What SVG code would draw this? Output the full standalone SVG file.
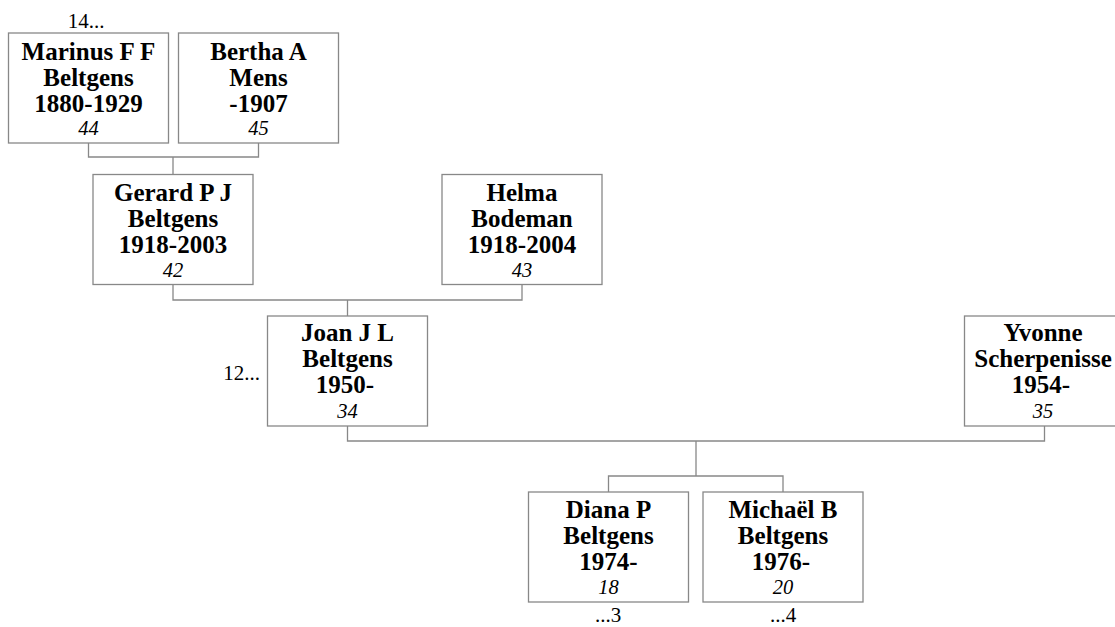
<svg xmlns="http://www.w3.org/2000/svg" width="1115" height="627" viewBox="0 0 1115 627">
<style>
.box{fill:#fff;stroke:#888;stroke-width:1.3}
.n{font-family:"Liberation Serif","Times New Roman",serif;font-weight:bold;font-size:25px;text-anchor:middle;fill:#000}
.i{font-family:"Liberation Serif","Times New Roman",serif;font-style:italic;font-size:20.5px;text-anchor:middle;fill:#000}
.r{font-family:"Liberation Serif","Times New Roman",serif;font-size:21px;fill:#000}
.c{fill:none;stroke:#888;stroke-width:1.3}
</style>
<rect width="1115" height="627" fill="#fff"/>
<g id="connectors">
<path class="c" d="M88.5,143 V157 H258.5 V143 M173,157 V174.5"/>
<path class="c" d="M173,284.5 V300 H522 V284.5 M347.5,300 V316"/>
<path class="c" d="M347.5,426 V441 H1044.5 V426 M696,441 V476 M608.5,492 V476 H783 V492"/>
</g>
<g id="marinus">
<rect class="box" x="8.5" y="33" width="160" height="110"/>
<text class="n" x="88.5" y="59.5">Marinus F F</text>
<text class="n" x="88.5" y="85.5">Beltgens</text>
<text class="n" x="88.5" y="111.5">1880-1929</text>
<text class="i" x="88.5" y="135">44</text>
<text class="r" x="86" y="28" text-anchor="middle">14...</text>
</g>
<g id="bertha">
<rect class="box" x="178.5" y="33" width="160" height="110"/>
<text class="n" x="258.5" y="59.5">Bertha A</text>
<text class="n" x="258.5" y="85.5">Mens</text>
<text class="n" x="258.5" y="111.5">-1907</text>
<text class="i" x="258.5" y="135">45</text>
</g>
<g id="gerard">
<rect class="box" x="93" y="174.5" width="160" height="110"/>
<text class="n" x="173" y="201">Gerard P J</text>
<text class="n" x="173" y="227">Beltgens</text>
<text class="n" x="173" y="253">1918-2003</text>
<text class="i" x="173" y="276.5">42</text>
</g>
<g id="helma">
<rect class="box" x="442" y="174.5" width="160" height="110"/>
<text class="n" x="522" y="201">Helma</text>
<text class="n" x="522" y="227">Bodeman</text>
<text class="n" x="522" y="253">1918-2004</text>
<text class="i" x="522" y="276.5">43</text>
</g>
<g id="joan">
<rect class="box" x="267.5" y="316" width="160" height="110"/>
<text class="n" x="347.5" y="341">Joan J L</text>
<text class="n" x="347.5" y="367">Beltgens</text>
<text class="n" x="345" y="393">1950-</text>
<text class="i" x="347.5" y="418">34</text>
<text class="r" x="260" y="380" text-anchor="end">12...</text>
</g>
<g id="yvonne">
<rect class="box" x="964.5" y="316" width="160" height="110"/>
<text class="n" x="1043" y="341">Yvonne</text>
<text class="n" x="1043" y="367">Scherpenisse</text>
<text class="n" x="1041" y="393">1954-</text>
<text class="i" x="1043" y="418">35</text>
</g>
<g id="diana">
<rect class="box" x="528.5" y="492" width="160" height="110"/>
<text class="n" x="608.5" y="518">Diana P</text>
<text class="n" x="608.5" y="544">Beltgens</text>
<text class="n" x="608.5" y="570">1974-</text>
<text class="i" x="608.5" y="594">18</text>
<text class="r" x="608" y="622" text-anchor="middle">...3</text>
</g>
<g id="michael">
<rect class="box" x="703" y="492" width="160" height="110"/>
<text class="n" x="783" y="518">Michaël B</text>
<text class="n" x="783" y="544">Beltgens</text>
<text class="n" x="781" y="570">1976-</text>
<text class="i" x="783" y="594">20</text>
<text class="r" x="783" y="622" text-anchor="middle">...4</text>
</g>
</svg>
